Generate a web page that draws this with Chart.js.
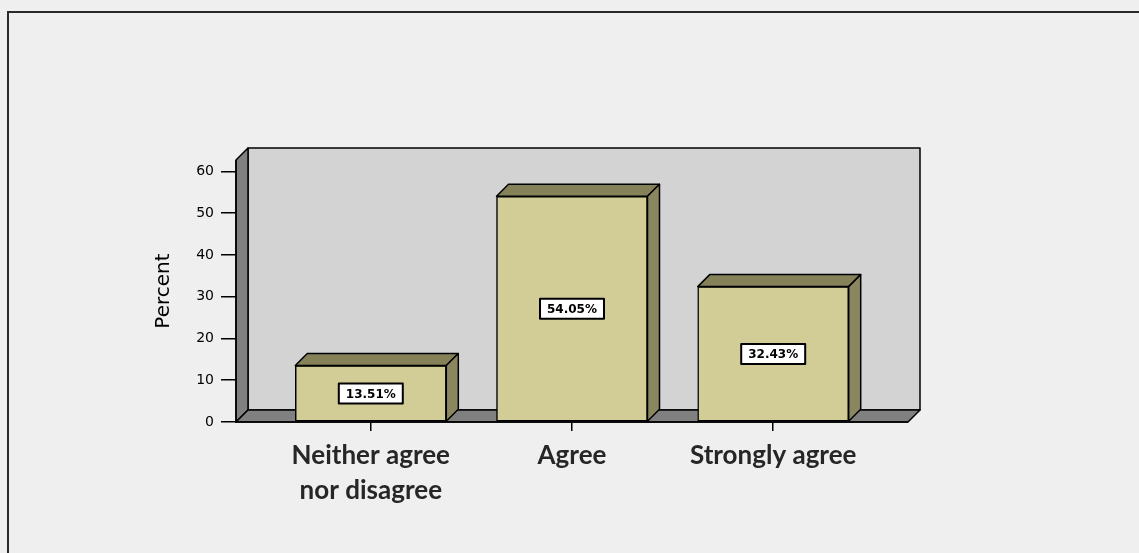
<!DOCTYPE html>
<html>
<head>
<meta charset="utf-8">
<script src="https://cdn.jsdelivr.net/npm/chart.js@4/dist/chart.umd.min.js"></script>
<style>
  html, body { margin: 0; padding: 0; background: #efefef; }
  #wrap { position: relative; width: 1139px; height: 553px; overflow: hidden; }
  #frame { position: absolute; left: 7px; top: 11px; width: 1200px; height: 600px; border: 2px solid #2a2a2a; box-sizing: border-box; }
  canvas { position: absolute; left: 0; top: 0; }
</style>
</head>
<body>
<div id="wrap">
  <div id="frame"></div>
  <canvas id="c" width="1139" height="553"></canvas>
</div>
<script>
const categories = [["Neither agree", "nor disagree"], "Agree", "Strongly agree"];
const percentValues = [13.51, 54.05, 32.43];
const valueLabels = ["13.51%", "54.05%", "32.43%"];
const yTicks = [0, 10, 20, 30, 40, 50, 60];

const DX = 12, DY = -12;

const threeD = {
  id: 'threeD',
  beforeDatasetsDraw(chart) {
    const ctx = chart.ctx;
    const a = chart.chartArea;
    ctx.save();
    ctx.lineWidth = 1.5;
    ctx.strokeStyle = '#000';
    ctx.lineJoin = 'round';
    ctx.fillStyle = '#d3d3d3';
    ctx.beginPath();
    ctx.rect(a.left + DX, a.top + DY, a.right - a.left, a.bottom - a.top);
    ctx.fill(); ctx.stroke();
    ctx.fillStyle = '#808080';
    ctx.beginPath();
    ctx.moveTo(a.left, a.bottom);
    ctx.lineTo(a.left, a.top);
    ctx.lineTo(a.left + DX, a.top + DY);
    ctx.lineTo(a.left + DX, a.bottom + DY);
    ctx.closePath();
    ctx.fill(); ctx.stroke();
    ctx.beginPath();
    ctx.moveTo(a.left, a.bottom);
    ctx.lineTo(a.left + DX, a.bottom + DY);
    ctx.lineTo(a.right + DX, a.bottom + DY);
    ctx.lineTo(a.right, a.bottom);
    ctx.closePath();
    ctx.fill(); ctx.stroke();
    ctx.restore();
  },
  afterDatasetsDraw(chart) {
    const ctx = chart.ctx;
    const meta = chart.getDatasetMeta(0);
    ctx.save();
    ctx.lineWidth = 1.5;
    ctx.strokeStyle = '#000';
    ctx.lineJoin = 'round';
    meta.data.forEach((bar, i) => {
      const x1 = bar.x - bar.width / 2, x2 = bar.x + bar.width / 2;
      const top = bar.y, base = bar.base;
      ctx.fillStyle = '#85825a';
      ctx.beginPath();
      ctx.moveTo(x1, top);
      ctx.lineTo(x1 + DX, top + DY);
      ctx.lineTo(x2 + DX, top + DY);
      ctx.lineTo(x2, top);
      ctx.closePath();
      ctx.fill(); ctx.stroke();
      ctx.fillStyle = '#8a8760';
      ctx.beginPath();
      ctx.moveTo(x2, top);
      ctx.lineTo(x2 + DX, top + DY);
      ctx.lineTo(x2 + DX, base + DY);
      ctx.lineTo(x2, base);
      ctx.closePath();
      ctx.fill(); ctx.stroke();
      const cy = (top + base) / 2;
      ctx.font = 'bold 12px "DejaVu Sans"';
      const txt = valueLabels[i];
      const tw = ctx.measureText(txt).width;
      const bw = tw + 14, bh = 20;
      ctx.fillStyle = '#ffffff';
      ctx.fillRect(bar.x - bw / 2, cy - bh / 2, bw, bh);
      ctx.lineWidth = 2;
      ctx.strokeRect(bar.x - bw / 2, cy - bh / 2, bw, bh);
      ctx.fillStyle = '#000';
      ctx.textAlign = 'center';
      ctx.textBaseline = 'middle';
      ctx.fillText(txt, bar.x, cy + 1);
      ctx.lineWidth = 1.5;
    });
    const a = chart.chartArea;
    ctx.beginPath();
    ctx.moveTo(a.left, a.top);
    ctx.lineTo(a.left, a.bottom);
    ctx.lineTo(a.right, a.bottom);
    ctx.stroke();
    ctx.restore();
  }
};

new Chart(document.getElementById('c'), {
  type: 'bar',
  data: {
    datasets: [{
      data: percentValues.map((v, i) => ({ x: i, y: v })),
      backgroundColor: '#d2cd96',
      borderColor: '#000',
      borderWidth: 1.5,
      borderSkipped: false,
      barThickness: 151
    }]
  },
  plugins: [threeD],
  options: {
    responsive: false,
    animation: false,
    layout: { padding: { left: 150, right: 231, top: 160, bottom: 25 } },
    plugins: { legend: { display: false }, tooltip: { enabled: false } },
    scales: {
      x: {
        type: 'linear',
        offset: false,
        min: -0.67,
        max: 2.67,
        afterBuildTicks: s => { s.ticks = categories.map((_, i) => ({ value: i })); },
        afterFit: s => { s.height = 106; },
        border: { display: false },
        grid: { offset: false, drawOnChartArea: false, drawTicks: true, tickLength: 9, color: '#000', lineWidth: 1.5 },
        ticks: {
          padding: 7,
          color: '#262626',
          font: { family: 'Lato', size: 26, weight: '700', lineHeight: 1.35 },
          callback: (v) => categories[v],
          maxRotation: 0,
          autoSkip: false
        }
      },
      y: {
        min: 0,
        max: 62.75,
        afterBuildTicks: s => { s.ticks = yTicks.map(v => ({ value: v })); },
        afterFit: s => { s.width = 86; },
        border: { display: false },
        grid: { drawOnChartArea: false, drawTicks: true, tickLength: 15, color: '#000', lineWidth: 1.5 },
        title: { display: true, text: 'Percent', color: '#000', font: { family: '"DejaVu Sans"', size: 20 }, padding: 2 },
        ticks: { color: '#000', padding: 7, font: { family: '"DejaVu Sans"', size: 14 } }
      }
    }
  }
});
</script>
</body>
</html>
